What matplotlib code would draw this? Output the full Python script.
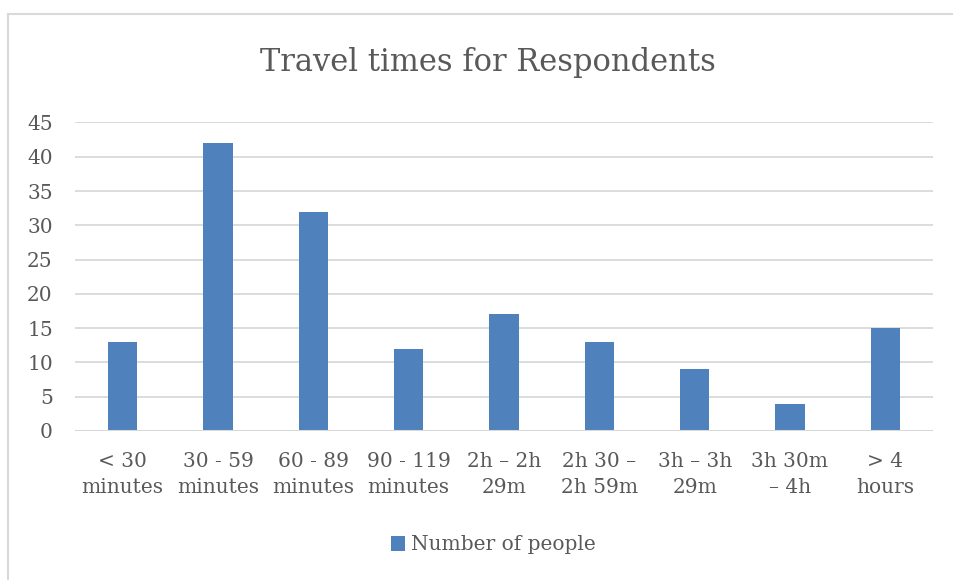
import matplotlib
matplotlib.use('Agg')
import matplotlib.pyplot as plt
from matplotlib.lines import Line2D
import numpy as np

categories = ['< 30\nminutes', '30 - 59\nminutes', '60 - 89\nminutes', '90 - 119\nminutes',
              '2h \u2013 2h\n29m', '2h 30 \u2013\n2h 59m', '3h \u2013 3h\n29m', '3h 30m\n\u2013 4h',
              '> 4\nhours']
people = [13, 42, 32, 12, 17, 13, 9, 4, 15]
y_ticks = [0, 5, 10, 15, 20, 25, 30, 35, 40, 45]

W, H = 954, 580
plt.rcParams['font.family'] = ['DejaVu Serif']
txt = '#595959'
grid = '#d9d9d9'

fig = plt.figure(figsize=(W / 100, H / 100), dpi=100)
ax = fig.add_axes([75 / W, 1 - 431 / H, (933 - 75) / W, (431 - 122.5) / H])

x = np.arange(len(categories))
ax.bar(x, people, width=0.31, color='#4f81bd', zorder=3, label='Number of people')
ax.set_xlim(-0.5, len(categories) - 0.5)
ax.set_ylim(0, 45)
ax.set_yticks(y_ticks)
ax.set_xticks(x)
ax.set_xticklabels(categories, fontsize=14.5, color=txt, linespacing=1.45)
ax.tick_params(axis='y', labelsize=14.5, labelcolor=txt, length=0, pad=16)
ax.tick_params(axis='x', length=0, pad=15)
ax.grid(axis='y', color=grid, lw=1.3, zorder=0)
for s in ax.spines.values():
    s.set_visible(False)
ax.axhline(0, color=grid, lw=1.5, zorder=4)

fig.text(488 / W, 1 - 62 / H, 'Travel times for Respondents', ha='center', va='center',
         fontsize=22, color=txt)

leg = fig.legend(loc='center', bbox_to_anchor=(493 / W, 1 - 545 / H), frameon=False,
                 fontsize=14.5, handlelength=0.7, handleheight=0.7, handletextpad=0.3)
for t in leg.get_texts():
    t.set_color(txt)

# chart border
fig.add_artist(Line2D([8 / W, 8 / W], [0, 1 - 14 / H], color=grid, lw=1.5))
fig.add_artist(Line2D([8 / W, 1], [1 - 14 / H, 1 - 14 / H], color=grid, lw=1.5))

fig.savefig('out.png', dpi=100, facecolor='white')
